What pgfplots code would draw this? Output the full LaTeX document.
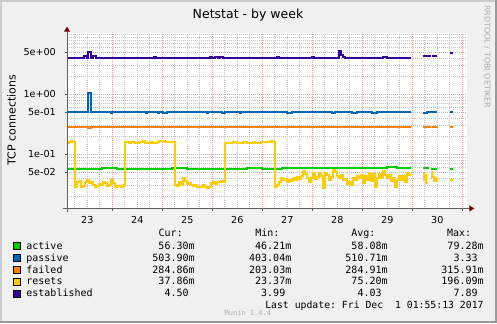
\documentclass[border=0pt]{standalone}
\usepackage{pgfplots}
\pgfplotsset{compat=1.18}
\usepackage{fontspec}
\setmainfont{DejaVu Sans}
\newfontfamily\monofont{DejaVu Sans Mono}
\usetikzlibrary{arrows.meta}

\definecolor{bg}{HTML}{F0F0F0}
\definecolor{shadea}{HTML}{CBCBCB}
\definecolor{shadeb}{HTML}{999999}
\definecolor{cgreen}{HTML}{00CC00}
\definecolor{cblue}{HTML}{0066B3}
\definecolor{corange}{HTML}{FF8000}
\definecolor{cyellow}{HTML}{FFCC00}
\definecolor{cpurple}{HTML}{330099}
\definecolor{gridminor}{HTML}{C4C4C4}
\definecolor{gridmajor}{HTML}{EBA0A0}
\definecolor{axiscol}{HTML}{606060}
\definecolor{arrowcol}{HTML}{7F0000}
\definecolor{wmark}{HTML}{ABABAB}

\begin{document}
\begin{tikzpicture}
\begin{scope}[x=1bp,y=1bp]
\fill[bg] (0,0) rectangle (497,323);
\fill[shadea] (0,0) rectangle (2,323);
\fill[shadea] (0,321) rectangle (497,323);
\fill[shadeb] (495,0) rectangle (497,323);
\fill[shadeb] (0,0) rectangle (497,2);
\end{scope}

\begin{axis}[
  at={(67bp,114.5bp)}, anchor=south west,
  scale only axis, width=400bp, height=175bp,
  ymode=log,
  xmin=23.094, xmax=31.094, ymin=0.0125, ymax=10.3,
  axis background/.style={fill=white},
  axis line style={draw=none},
  tick pos=left, tick align=outside,
  major tick length=2.5bp, minor tick length=0pt,
  tick style={axiscol, line width=0.8bp},
  xtick={24,25,...,31}, xticklabels={,,,,,,,},
  minor xtick={23.25,23.5,...,31},
  extra x ticks={23.5,24.5,...,30.5},
  extra x tick labels={23,24,25,26,27,28,29,30},
  extra x tick style={grid=none, major tick length=0pt,
     xticklabel style={anchor=north, inner sep=0pt, yshift=-7.8bp}},
  ytick={0.05,0.1,0.5,1,5},
  yticklabels={5e-02,1e-01,5e-01,1e+00,5e+00},
  minor ytick={0.02,0.03,0.04,0.06,0.07,0.08,0.09,0.2,0.3,0.4,0.6,0.7,0.8,0.9,2,3,4,6,7,8,9,10},
  yticklabel style={anchor=east, inner sep=0pt, xshift=-8.5bp},
  tick label style={font=\fontsize{9.6bp}{11bp}\selectfont},
  grid=both,
  major grid style={gridmajor, dash pattern=on 1bp off 1bp, line width=1bp},
  minor grid style={gridminor, dash pattern=on 1bp off 1bp, line width=1bp},
  unbounded coords=jump,
  every axis plot/.style={const plot, line width=2bp, mark=none},
]
% active
\addplot[cgreen] table {
23.094 0.058
23.300 0.0575
23.450 0.058
23.800 0.0585
24.100 0.058
24.600 0.0575
24.750 0.058
25.200 0.0585
25.500 0.058
25.900 0.0575
26.200 0.058
26.700 0.0585
27.000 0.058
27.400 0.059
27.700 0.0595
27.900 0.059
28.200 0.060
28.400 0.059
28.600 0.0595
28.900 0.060
29.200 0.059
29.500 0.0605
29.700 0.0595
29.968 0.0595
29.970 nan
30.208 0.060
30.300 0.059
30.340 0.059
30.350 nan
30.374 0.058
30.500 0.058
30.510 nan
30.754 0.056
30.808 0.056
30.810 nan
};
% passive
\addplot[cblue] table {
23.094 0.50
23.520 1.04
23.575 0.50
23.980 0.485
24.000 0.50
24.680 0.485
24.700 0.50
24.910 0.485
24.930 0.50
25.020 0.485
25.100 0.50
25.900 0.485
25.920 0.50
26.190 0.485
26.260 0.50
26.550 0.485
26.570 0.50
27.000 0.51
27.100 0.50
27.500 0.49
27.600 0.50
28.000 0.51
28.100 0.50
28.400 0.49
28.450 0.50
28.800 0.485
28.900 0.50
29.200 0.49
29.300 0.50
29.600 0.51
29.700 0.50
29.968 0.50
29.970 nan
30.208 0.49
30.300 0.51
30.380 0.50
30.500 0.50
30.510 nan
30.754 0.50
30.808 0.50
30.810 nan
};
% failed
\addplot[corange] table {
23.094 0.287
23.520 0.272
23.575 0.287
29.968 0.287
29.970 nan
30.208 0.287
30.368 0.287
30.370 nan
30.400 0.287
30.520 0.287
30.530 nan
30.754 0.287
30.808 0.287
30.810 nan
};
% resets
\addplot[cyellow] table {
23.094 0.157
23.134 0.160
23.174 0.166
23.214 0.162
23.254 0.029
23.294 0.034
23.334 0.036
23.374 0.029
23.414 0.030
23.454 0.035
23.494 0.037
23.534 0.033
23.574 0.034
23.614 0.031
23.654 0.029
23.694 0.030
23.734 0.032
23.774 0.031
23.814 0.035
23.854 0.033
23.894 0.030
23.934 0.031
23.974 0.038
24.014 0.033
24.054 0.029
24.094 0.030
24.134 0.030
24.174 0.029
24.214 0.031
24.254 0.160
24.294 0.162
24.334 0.153
24.374 0.158
24.414 0.163
24.454 0.157
24.494 0.153
24.534 0.160
24.574 0.163
24.614 0.165
24.654 0.155
24.694 0.152
24.734 0.157
24.774 0.158
24.814 0.156
24.854 0.154
24.894 0.160
24.934 0.166
24.974 0.164
25.014 0.167
25.054 0.162
25.094 0.163
25.134 0.160
25.174 0.162
25.214 0.160
25.254 0.031
25.294 0.030
25.334 0.034
25.374 0.031
25.414 0.040
25.454 0.036
25.494 0.032
25.534 0.033
25.574 0.031
25.614 0.030
25.654 0.031
25.694 0.029
25.734 0.028
25.774 0.029
25.814 0.031
25.854 0.028
25.894 0.027
25.934 0.029
25.974 0.033
26.014 0.034
26.054 0.032
26.094 0.035
26.134 0.034
26.174 0.036
26.214 0.034
26.254 0.152
26.294 0.157
26.334 0.152
26.374 0.155
26.414 0.160
26.454 0.158
26.494 0.155
26.534 0.153
26.574 0.157
26.614 0.160
26.654 0.158
26.694 0.155
26.734 0.153
26.774 0.157
26.814 0.158
26.854 0.155
26.894 0.157
26.934 0.155
26.974 0.158
27.014 0.160
27.054 0.162
27.094 0.160
27.134 0.158
27.174 0.165
27.214 0.162
27.254 0.028
27.294 0.031
27.334 0.034
27.374 0.041
27.414 0.037
27.454 0.039
27.494 0.035
27.534 0.038
27.574 0.036
27.614 0.041
27.654 0.038
27.694 0.042
27.734 0.039
27.774 0.044
27.814 0.052
27.854 0.047
27.894 0.040
27.934 0.035
27.974 0.041
28.014 0.049
28.054 0.039
28.094 0.042
28.134 0.048
28.174 0.044
28.214 0.027
28.254 0.048
28.294 0.045
28.334 0.037
28.374 0.042
28.414 0.055
28.454 0.051
28.494 0.044
28.534 0.041
28.574 0.046
28.614 0.037
28.654 0.039
28.694 0.032
28.734 0.035
28.774 0.031
28.814 0.041
28.854 0.037
28.894 0.044
28.934 0.041
28.974 0.046
29.014 0.033
29.054 0.044
29.094 0.038
29.134 0.049
29.174 0.036
29.214 0.047
29.254 0.029
29.294 0.041
29.334 0.047
29.374 0.040
29.414 0.052
29.454 0.045
29.494 0.040
29.534 0.045
29.574 0.036
29.614 0.041
29.654 0.028
29.694 0.037
29.734 0.044
29.774 0.038
29.814 0.043
29.854 0.034
29.894 0.048
29.934 0.046
29.968 0.046
29.970 nan
30.208 0.048
30.224 0.038
30.244 0.045
30.264 0.040
30.280 0.033
30.320 0.033
30.330 nan
30.370 0.050
30.400 0.042
30.440 0.036
30.480 0.040
30.500 0.040
30.510 nan
30.754 0.038
30.808 0.038
30.820 nan
};
% established
\addplot[cpurple] table {
23.094 4.1
23.430 4.4
23.490 4.1
23.520 5.0
23.575 4.1
23.620 4.3
23.670 4.1
24.830 4.25
24.870 4.1
25.950 4.25
26.000 4.1
26.050 4.25
26.120 4.1
26.160 4.25
26.210 4.1
27.290 4.25
27.330 4.1
28.000 4.25
28.040 4.1
28.540 5.3
28.570 4.5
28.620 4.25
28.660 4.1
29.410 4.25
29.490 4.1
29.968 4.1
29.970 nan
30.208 4.4
30.368 4.4
30.370 nan
30.400 4.3
30.500 4.3
30.510 nan
30.754 4.8
30.808 4.8
30.810 nan
};
\end{axis}

\begin{scope}[x=1bp,y=1bp]
% axes with arrows
\draw[axiscol, line width=1bp, -{Triangle[width=6bp,length=5bp,color=arrowcol]}] (67,111) -- (67,296.3);
\draw[axiscol, line width=1bp, -{Triangle[width=6bp,length=5bp,color=arrowcol]}] (62.5,114.5) -- (474.3,114.5);

% title
\node[anchor=base, inner sep=0pt, font=\fontsize{12.5bp}{14bp}\selectfont] at (248,304.7) {Netstat - by week};
% y label
\node[rotate=90, inner sep=0pt, font=\fontsize{11bp}{13bp}\selectfont] at (11.5,203) {TCP connections};
% watermark
\node[rotate=-90, anchor=west, inner sep=0pt, text=wmark, font=\fontsize{8bp}{9bp}\selectfont] at (487.3,318) {RRDTOOL / TOBI OETIKER};

% legend
\begin{scope}[every node/.style={inner sep=0pt, font=\monofont\fontsize{10bp}{12bp}\selectfont}]
\node[anchor=base west] at (158.5,86.3) {Cur:};
\node[anchor=base west] at (255.2,86.3) {Min:};
\node[anchor=base west] at (351.2,86.3) {Avg:};
\node[anchor=base west] at (446.8,86.3) {Max:};

\filldraw[fill=cgreen, draw=black, line width=0.8bp] (13.8,73.8) rectangle (20.2,80.2);
\filldraw[fill=cblue, draw=black, line width=0.8bp] (13.8,62.1) rectangle (20.2,68.5);
\filldraw[fill=corange, draw=black, line width=0.8bp] (13.8,50.1) rectangle (20.2,56.5);
\filldraw[fill=cyellow, draw=black, line width=0.8bp] (13.8,38.1) rectangle (20.2,44.5);
\filldraw[fill=cpurple, draw=black, line width=0.8bp] (13.8,26.1) rectangle (20.2,32.5);

\node[anchor=base west] at (26.2,73.8) {active};
\node[anchor=base west] at (26.2,61.9) {passive};
\node[anchor=base west] at (26.2,50.0) {failed};
\node[anchor=base west] at (26.2,38.1) {resets};
\node[anchor=base west] at (26.2,26.2) {established};

\node[anchor=base east] at (194.8,73.8) {56.30m};
\node[anchor=base east] at (291.5,73.8) {46.21m};
\node[anchor=base east] at (387.8,73.8) {58.08m};
\node[anchor=base east] at (483.8,73.8) {79.28m};

\node[anchor=base east] at (194.8,61.9) {503.90m};
\node[anchor=base east] at (291.5,61.9) {403.04m};
\node[anchor=base east] at (387.8,61.9) {510.71m};
\node[anchor=base east] at (483.8,61.9) {3.33\phantom{m}};

\node[anchor=base east] at (194.8,50.0) {284.86m};
\node[anchor=base east] at (291.5,50.0) {203.03m};
\node[anchor=base east] at (387.8,50.0) {284.91m};
\node[anchor=base east] at (483.8,50.0) {315.91m};

\node[anchor=base east] at (194.8,38.1) {37.86m};
\node[anchor=base east] at (291.5,38.1) {23.37m};
\node[anchor=base east] at (387.8,38.1) {75.20m};
\node[anchor=base east] at (483.8,38.1) {196.09m};

\node[anchor=base east] at (194.8,26.2) {4.50\phantom{m}};
\node[anchor=base east] at (291.5,26.2) {3.99\phantom{m}};
\node[anchor=base east] at (387.8,26.2) {4.03\phantom{m}};
\node[anchor=base east] at (483.8,26.2) {7.89\phantom{m}};

\node[anchor=base east, font=\monofont\fontsize{9.8bp}{12bp}\selectfont] at (483.8,14.7) {Last update:\ Fri Dec\ \ 1 01:55:13 2017};
\node[anchor=base west, text=wmark, font=\monofont\fontsize{7bp}{8bp}\selectfont] at (224.5,8) {Munin 1.4.4};
\end{scope}
\end{scope}
\end{tikzpicture}
\end{document}
